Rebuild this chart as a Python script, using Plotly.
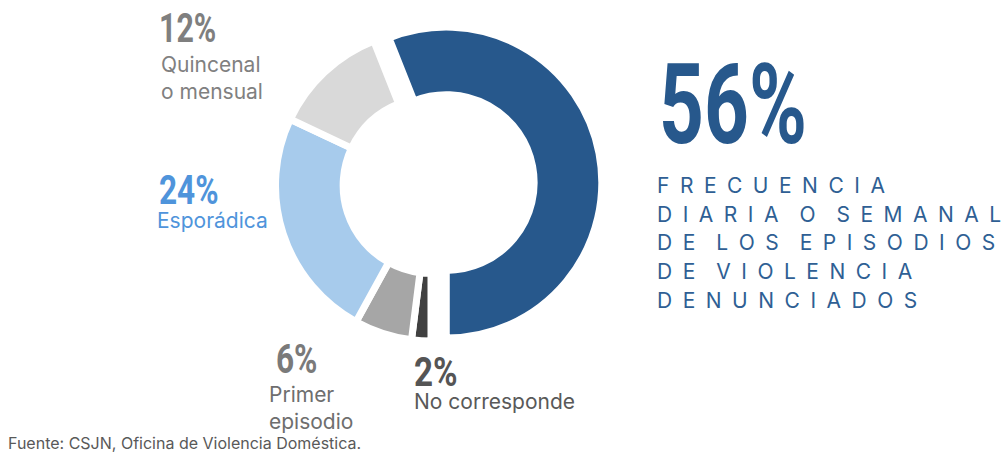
import json
import plotly.graph_objects as go

# Frecuencia de los episodios de violencia denunciados
categories = ["Diaria o semanal", "No corresponde", "Primer episodio", "Esporádica", "Quincenal o mensual"]
shares = [56, 2, 6, 24, 12]
slice_colors = ["#27588C", "#404040", "#A6A6A6", "#A7CBEC", "#D9D9D9"]
pulls = [0.1, 0, 0, 0, 0]

W, H = 1002, 453

# Donut geometry in pixels (centre and outer radius of the un-pulled ring)
cx, cy, R = 431, 185.5, 155.5
half = R * (1 + max(pulls))

fig = go.Figure(go.Pie(
    labels=categories,
    values=shares,
    sort=False,
    direction="clockwise",
    rotation=-360 * shares[0] / 100 + 180,
    hole=0.565,
    pull=pulls,
    marker=dict(colors=slice_colors, line=dict(color="white", width=7)),
    textinfo="none",
    hoverinfo="label+percent",
    domain=dict(x=[(cx - half) / W, (cx + half) / W],
                y=[1 - (cy + half) / H, 1 - (cy - half) / H]),
))

COND = "Roboto, Inter, sans-serif"
BODY = "Inter, Roboto, sans-serif"

# horizontal squeeze applied to the big percentage figures (condensed look)
squeeze = {}


def px_ann(x, y, text, size, color, family, weight="normal", yanchor="middle"):
    fig.add_annotation(
        x=x / W, y=1 - y / H, xref="paper", yref="paper",
        xanchor="left", yanchor=yanchor, align="left", showarrow=False,
        text=text, font=dict(family=family, size=size, color=color, weight=weight),
    )


# Slice callouts: percentage + description
callouts = [
    # (x pct, y pct, pct colour, squeeze, x label, y label, label text, label colour)
    (157, 29, "#7F7F7F", 0.76, 159, 78, "Quincenal<br>o mensual", "#808080"),
    (157, 191, "#4F94DB", 0.79, 155, 220, "Esporádica", "#4F94DB"),
    (274, 359, "#7A7A7A", 0.79, 267, 408, "Primer<br>episodio", "#6E6E6E"),
    (412, 372, "#555555", 0.83, 412, 401, "No corresponde", "#595959"),
]
callout_values = [shares[4], shares[3], shares[2], shares[1]]
for v, (xp, yp, pcol, sq, xl, yl, lab, lcol) in zip(callout_values, callouts):
    pct = f"{v}%"
    squeeze[pct] = sq
    px_ann(xp, yp, pct, 40, pcol, COND, weight="bold")
    px_ann(xl, yl, lab, 21, lcol, BODY)

# Headline figure
headline = f"{shares[0]}%"
squeeze[headline] = 0.70
px_ann(657, 104, headline, 112, "#27588C", COND, weight="bold")

# Letter-spaced caption
caption_lines = ["FRECUENCIA", "DIARIA O SEMANAL", "DE LOS EPISODIOS", "DE VIOLENCIA", "DENUNCIADOS"]
gap = "\u2002"
for i, line in enumerate(caption_lines):
    spaced = (gap * 2).join(gap.join(word) for word in line.split(" "))
    px_ann(655, 185.5 + i * 28.7, spaced, 21, "#2F5F94", BODY)

# Source note
px_ann(6, 443, "Fuente: CSJN, Oficina de Violencia Doméstica.", 16, "#595959", BODY)

fig.update_layout(
    width=W, height=H,
    margin=dict(l=0, r=0, t=0, b=0),
    paper_bgcolor="white", plot_bgcolor="white",
    showlegend=False,
)

# Narrow the percentage figures horizontally around their left edge
condense_js = """
var gd = document.getElementById('{plot_id}');
var squeeze = SQUEEZE;
function condense() {
  gd.querySelectorAll('text.annotation-text').forEach(function (t) {
    var s = squeeze[t.textContent];
    if (!s) return;
    var bb = t.getBBox();
    t.setAttribute('transform',
      'translate(' + bb.x + ',0) scale(' + s + ',1) translate(' + (-bb.x) + ',0)');
  });
}
condense();
if (gd.on) gd.on('plotly_afterplot', condense);
""".replace("SQUEEZE", json.dumps(squeeze))

fig.write_html("out.html", post_script=condense_js)
